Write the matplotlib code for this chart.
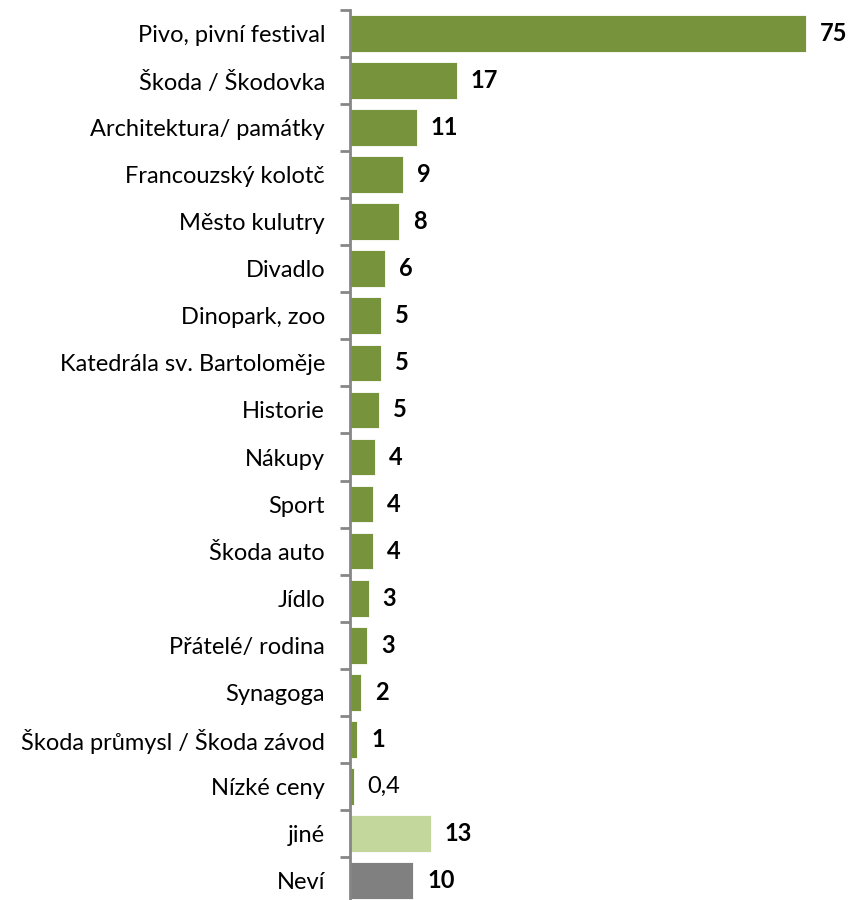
import numpy as np
import matplotlib
matplotlib.use("Agg")
import matplotlib.pyplot as plt

categories = ["Pivo, pivní festival", "Škoda / Škodovka", "Architektura/ památky",
              "Francouzský kolotč", "Město kulutry", "Divadlo", "Dinopark, zoo",
              "Katedrála sv. Bartoloměje", "Historie", "Nákupy", "Sport", "Škoda auto",
              "Jídlo", "Přátelé/ rodina", "Synagoga", "Škoda průmysl / Škoda závod",
              "Nízké ceny", "jiné", "Neví"]
values = [75, 17.6, 11.0, 8.7, 8.1, 5.8, 5.1, 5.1, 4.8, 4.1, 3.8, 3.8,
          3.1, 2.8, 1.8, 1.2, 0.6, 13.3, 10.4]
value_labels = ["75", "17", "11", "9", "8", "6", "5", "5", "5", "4", "4", "4",
                "3", "3", "2", "1", "0,4", "13", "10"]

green = "#77933C"
light_green = "#C3D69B"
grey = "#808080"
colors = [green] * 17 + [light_green, grey]

plt.rcParams['font.family'] = ['Lato', 'DejaVu Sans']

fig = plt.figure(figsize=(8.48, 9), dpi=100)
ax = fig.add_axes([350 / 848, -4 / 900, 486 / 848, 894 / 900])

y = np.arange(len(categories))
ax.barh(y, values, height=0.78, color=colors, edgecolor="white", linewidth=0.6)
ax.set_ylim(len(categories) - 0.5, -0.5)
ax.set_xlim(0, 80)

for yi, v, lab in zip(y, values, value_labels):
    bold = lab != "0,4"
    ax.annotate(lab, (v, yi), xytext=(10, 0), textcoords="offset points",
                va="center", ha="left", fontsize=17,
                fontweight="bold" if bold else "normal", color="black")

ax.set_yticks(y)
ax.set_yticklabels(categories, fontsize=17)
ax.tick_params(axis="y", which="major", length=0, pad=18)
ax.set_yticks(np.arange(-0.5, len(categories)), minor=True)
ax.tick_params(axis="y", which="minor", length=7, width=2, color="#868686")
ax.set_xticks([])

for s in ["top", "right", "bottom"]:
    ax.spines[s].set_visible(False)
ax.spines["left"].set_color("#868686")
ax.spines["left"].set_linewidth(2)

fig.savefig("out.png", dpi=100)
